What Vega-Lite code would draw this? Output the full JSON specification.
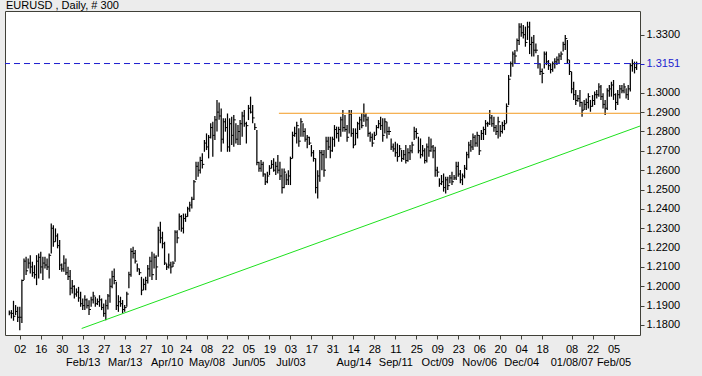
{
"$schema": "https://vega.github.io/schema/vega-lite/v6.json",
"width": 635, "height": 324,
"autosize": {"type": "none"},
"padding": {"left": 5, "top": 11, "right": 62, "bottom": 41},
"background": "#ececec",
"config": {"view": {"stroke": "#404038", "fill": "white"}, "font": "Liberation Sans"},
"title": {"text": "EURUSD , Daily, # 300", "anchor": "start", "frame": "group", "offset": 0, "dx": 1, "fontSize": 11, "fontWeight": "normal", "font": "Liberation Sans", "color": "black"},
"datasets": {
"bars": [
{"i":0,"h":1.1875,"l":1.1850,"c":1.1862},{"i":1,"h":1.1877,"l":1.1834,"c":1.1860},{"i":2,"h":1.1925,"l":1.1822,"c":1.1845},{"i":3,"h":1.1903,"l":1.1851,"c":1.1870},{"i":4,"h":1.1894,"l":1.1816,"c":1.1840},
{"i":5,"h":1.1894,"l":1.1773,"c":1.1840},{"i":6,"h":1.2035,"l":1.1810,"c":1.2030},{"i":7,"h":1.2144,"l":1.2032,"c":1.2130},{"i":8,"h":1.2152,"l":1.2058,"c":1.2080},{"i":9,"h":1.2144,"l":1.2092,"c":1.2120},
{"i":10,"h":1.2161,"l":1.2066,"c":1.2100},{"i":11,"h":1.2127,"l":1.2049,"c":1.2070},{"i":12,"h":1.2109,"l":1.2040,"c":1.2060},{"i":13,"h":1.2161,"l":1.2006,"c":1.2130},{"i":14,"h":1.2170,"l":1.2040,"c":1.2150},
{"i":15,"h":1.2178,"l":1.2066,"c":1.2100},{"i":16,"h":1.2152,"l":1.2032,"c":1.2120},{"i":17,"h":1.2152,"l":1.2092,"c":1.2110},{"i":18,"h":1.2144,"l":1.2084,"c":1.2100},{"i":19,"h":1.2170,"l":1.2040,"c":1.2160},
{"i":20,"h":1.2325,"l":1.2170,"c":1.2300},{"i":21,"h":1.2316,"l":1.2204,"c":1.2230},{"i":22,"h":1.2299,"l":1.2230,"c":1.2260},{"i":23,"h":1.2273,"l":1.2196,"c":1.2210},{"i":24,"h":1.2239,"l":1.2084,"c":1.2110},
{"i":25,"h":1.2118,"l":1.2075,"c":1.2090},{"i":26,"h":1.2161,"l":1.2075,"c":1.2120},{"i":27,"h":1.2144,"l":1.2058,"c":1.2070},{"i":28,"h":1.2101,"l":1.2032,"c":1.2050},{"i":29,"h":1.2084,"l":1.1954,"c":1.1990},
{"i":30,"h":1.2032,"l":1.1963,"c":1.2000},{"i":31,"h":1.2006,"l":1.1937,"c":1.1960},{"i":32,"h":1.1989,"l":1.1946,"c":1.1970},{"i":33,"h":1.1997,"l":1.1920,"c":1.1940},{"i":34,"h":1.1972,"l":1.1894,"c":1.1910},
{"i":35,"h":1.1937,"l":1.1877,"c":1.1900},{"i":36,"h":1.1954,"l":1.1877,"c":1.1930},{"i":37,"h":1.1937,"l":1.1885,"c":1.1900},{"i":38,"h":1.1928,"l":1.1851,"c":1.1880},{"i":39,"h":1.1946,"l":1.1894,"c":1.1930},
{"i":40,"h":1.1972,"l":1.1911,"c":1.1950},{"i":41,"h":1.1946,"l":1.1894,"c":1.1910},{"i":42,"h":1.1937,"l":1.1903,"c":1.1920},{"i":43,"h":1.1954,"l":1.1894,"c":1.1930},{"i":44,"h":1.1937,"l":1.1877,"c":1.1890},
{"i":45,"h":1.1911,"l":1.1842,"c":1.1860},{"i":46,"h":1.1930,"l":1.1825,"c":1.1900},{"i":47,"h":1.1960,"l":1.1880,"c":1.1950},{"i":48,"h":1.2040,"l":1.1915,"c":1.2000},{"i":49,"h":1.2080,"l":1.1990,"c":1.2050},
{"i":50,"h":1.2092,"l":1.2010,"c":1.2030},{"i":51,"h":1.2023,"l":1.1877,"c":1.1900},{"i":52,"h":1.1954,"l":1.1868,"c":1.1920},{"i":53,"h":1.1946,"l":1.1894,"c":1.1910},{"i":54,"h":1.1929,"l":1.1860,"c":1.1880},
{"i":55,"h":1.1903,"l":1.1868,"c":1.1890},{"i":56,"h":1.1972,"l":1.1894,"c":1.1960},{"i":57,"h":1.2075,"l":1.1990,"c":1.2060},{"i":58,"h":1.2196,"l":1.2049,"c":1.2180},{"i":59,"h":1.2204,"l":1.2144,"c":1.2170},
{"i":60,"h":1.2187,"l":1.2118,"c":1.2130},{"i":61,"h":1.2118,"l":1.2075,"c":1.2090},{"i":62,"h":1.2092,"l":1.2058,"c":1.2070},{"i":63,"h":1.2049,"l":1.1954,"c":1.1980},{"i":64,"h":1.2040,"l":1.1980,"c":1.2010},
{"i":65,"h":1.2049,"l":1.1980,"c":1.2030},{"i":66,"h":1.2110,"l":1.2015,"c":1.2090},{"i":67,"h":1.2153,"l":1.2049,"c":1.2130},{"i":68,"h":1.2178,"l":1.2032,"c":1.2060},{"i":69,"h":1.2170,"l":1.2092,"c":1.2150},
{"i":70,"h":1.2161,"l":1.2032,"c":1.2100},{"i":71,"h":1.2308,"l":1.2153,"c":1.2290},{"i":72,"h":1.2333,"l":1.2222,"c":1.2250},{"i":73,"h":1.2282,"l":1.2196,"c":1.2220},{"i":74,"h":1.2230,"l":1.2110,"c":1.2120},
{"i":75,"h":1.2118,"l":1.2084,"c":1.2100},{"i":76,"h":1.2170,"l":1.2092,"c":1.2110},{"i":77,"h":1.2127,"l":1.2066,"c":1.2100},{"i":78,"h":1.2130,"l":1.2100,"c":1.2120},{"i":79,"h":1.2290,"l":1.2127,"c":1.2280},
{"i":80,"h":1.2290,"l":1.2222,"c":1.2250},{"i":81,"h":1.2376,"l":1.2290,"c":1.2360},{"i":82,"h":1.2368,"l":1.2282,"c":1.2300},{"i":83,"h":1.2376,"l":1.2273,"c":1.2350},{"i":84,"h":1.2376,"l":1.2333,"c":1.2360},
{"i":85,"h":1.2411,"l":1.2359,"c":1.2400},{"i":86,"h":1.2437,"l":1.2385,"c":1.2420},{"i":87,"h":1.2463,"l":1.2402,"c":1.2450},{"i":88,"h":1.2549,"l":1.2446,"c":1.2540},{"i":89,"h":1.2644,"l":1.2549,"c":1.2620},
{"i":90,"h":1.2644,"l":1.2566,"c":1.2600},{"i":91,"h":1.2670,"l":1.2583,"c":1.2650},{"i":92,"h":1.2687,"l":1.2609,"c":1.2630},{"i":93,"h":1.2756,"l":1.2695,"c":1.2740},{"i":94,"h":1.2790,"l":1.2704,"c":1.2720},
{"i":95,"h":1.2782,"l":1.2661,"c":1.2770},{"i":96,"h":1.2842,"l":1.2764,"c":1.2820},{"i":97,"h":1.2850,"l":1.2670,"c":1.2780},{"i":98,"h":1.2880,"l":1.2756,"c":1.2860},{"i":99,"h":1.2962,"l":1.2800,"c":1.2900},
{"i":100,"h":1.2950,"l":1.2860,"c":1.2880},{"i":101,"h":1.2919,"l":1.2695,"c":1.2760},{"i":102,"h":1.2868,"l":1.2738,"c":1.2850},{"i":103,"h":1.2868,"l":1.2799,"c":1.2820},{"i":104,"h":1.2893,"l":1.2695,"c":1.2720},
{"i":105,"h":1.2868,"l":1.2695,"c":1.2840},{"i":106,"h":1.2876,"l":1.2730,"c":1.2780},{"i":107,"h":1.2885,"l":1.2721,"c":1.2860},{"i":108,"h":1.2842,"l":1.2738,"c":1.2760},{"i":109,"h":1.2833,"l":1.2730,"c":1.2800},
{"i":110,"h":1.2859,"l":1.2730,"c":1.2840},{"i":111,"h":1.2902,"l":1.2773,"c":1.2880},{"i":112,"h":1.2911,"l":1.2825,"c":1.2840},{"i":113,"h":1.2850,"l":1.2738,"c":1.2830},{"i":114,"h":1.2937,"l":1.2859,"c":1.2920},
{"i":115,"h":1.2980,"l":1.2893,"c":1.2900},{"i":116,"h":1.2937,"l":1.2842,"c":1.2870},{"i":117,"h":1.2842,"l":1.2807,"c":1.2820},{"i":118,"h":1.2807,"l":1.2626,"c":1.2640},{"i":119,"h":1.2644,"l":1.2592,"c":1.2610},
{"i":120,"h":1.2652,"l":1.2592,"c":1.2630},{"i":121,"h":1.2644,"l":1.2566,"c":1.2580},{"i":122,"h":1.2583,"l":1.2523,"c":1.2540},{"i":123,"h":1.2592,"l":1.2532,"c":1.2570},{"i":124,"h":1.2626,"l":1.2575,"c":1.2610},
{"i":125,"h":1.2652,"l":1.2609,"c":1.2630},{"i":126,"h":1.2661,"l":1.2592,"c":1.2600},{"i":127,"h":1.2644,"l":1.2575,"c":1.2620},{"i":128,"h":1.2678,"l":1.2583,"c":1.2600},{"i":129,"h":1.2644,"l":1.2549,"c":1.2570},
{"i":130,"h":1.2609,"l":1.2480,"c":1.2510},{"i":131,"h":1.2609,"l":1.2506,"c":1.2590},{"i":132,"h":1.2583,"l":1.2523,"c":1.2550},{"i":133,"h":1.2600,"l":1.2523,"c":1.2570},{"i":134,"h":1.2670,"l":1.2523,"c":1.2660},
{"i":135,"h":1.2799,"l":1.2661,"c":1.2780},{"i":136,"h":1.2825,"l":1.2773,"c":1.2790},{"i":137,"h":1.2850,"l":1.2738,"c":1.2830},{"i":138,"h":1.2816,"l":1.2721,"c":1.2750},{"i":139,"h":1.2868,"l":1.2773,"c":1.2850},
{"i":140,"h":1.2842,"l":1.2773,"c":1.2800},{"i":141,"h":1.2816,"l":1.2747,"c":1.2760},{"i":142,"h":1.2782,"l":1.2713,"c":1.2770},{"i":143,"h":1.2773,"l":1.2730,"c":1.2740},{"i":144,"h":1.2730,"l":1.2670,"c":1.2690},
{"i":145,"h":1.2704,"l":1.2644,"c":1.2660},{"i":146,"h":1.2661,"l":1.2480,"c":1.2510},{"i":147,"h":1.2600,"l":1.2454,"c":1.2570},{"i":148,"h":1.2704,"l":1.2540,"c":1.2690},{"i":149,"h":1.2704,"l":1.2600,"c":1.2680},
{"i":150,"h":1.2704,"l":1.2566,"c":1.2600},{"i":151,"h":1.2773,"l":1.2661,"c":1.2750},{"i":152,"h":1.2773,"l":1.2704,"c":1.2720},{"i":153,"h":1.2773,"l":1.2661,"c":1.2700},{"i":154,"h":1.2773,"l":1.2695,"c":1.2760},
{"i":155,"h":1.2833,"l":1.2721,"c":1.2810},{"i":156,"h":1.2825,"l":1.2764,"c":1.2790},{"i":157,"h":1.2825,"l":1.2747,"c":1.2810},{"i":158,"h":1.2876,"l":1.2773,"c":1.2860},{"i":159,"h":1.2911,"l":1.2799,"c":1.2820},
{"i":160,"h":1.2885,"l":1.2799,"c":1.2810},{"i":161,"h":1.2833,"l":1.2747,"c":1.2770},{"i":162,"h":1.2911,"l":1.2790,"c":1.2890},{"i":163,"h":1.2911,"l":1.2773,"c":1.2790},{"i":164,"h":1.2816,"l":1.2713,"c":1.2730},
{"i":165,"h":1.2816,"l":1.2730,"c":1.2790},{"i":166,"h":1.2850,"l":1.2764,"c":1.2840},{"i":167,"h":1.2876,"l":1.2807,"c":1.2860},{"i":168,"h":1.2894,"l":1.2816,"c":1.2830},{"i":169,"h":1.2945,"l":1.2850,"c":1.2880},
{"i":170,"h":1.2894,"l":1.2825,"c":1.2860},{"i":171,"h":1.2876,"l":1.2773,"c":1.2790},{"i":172,"h":1.2799,"l":1.2747,"c":1.2770},{"i":173,"h":1.2790,"l":1.2721,"c":1.2740},{"i":174,"h":1.2799,"l":1.2756,"c":1.2780},
{"i":175,"h":1.2833,"l":1.2782,"c":1.2820},{"i":176,"h":1.2859,"l":1.2816,"c":1.2840},{"i":177,"h":1.2876,"l":1.2807,"c":1.2830},{"i":178,"h":1.2868,"l":1.2747,"c":1.2780},{"i":179,"h":1.2868,"l":1.2790,"c":1.2850},
{"i":180,"h":1.2850,"l":1.2764,"c":1.2800},{"i":181,"h":1.2825,"l":1.2782,"c":1.2800},{"i":182,"h":1.2764,"l":1.2704,"c":1.2720},{"i":183,"h":1.2738,"l":1.2695,"c":1.2710},{"i":184,"h":1.2747,"l":1.2670,"c":1.2690},
{"i":185,"h":1.2738,"l":1.2644,"c":1.2670},{"i":186,"h":1.2730,"l":1.2670,"c":1.2710},{"i":187,"h":1.2704,"l":1.2644,"c":1.2660},{"i":188,"h":1.2704,"l":1.2652,"c":1.2680},{"i":189,"h":1.2730,"l":1.2635,"c":1.2650},
{"i":190,"h":1.2713,"l":1.2644,"c":1.2690},{"i":191,"h":1.2730,"l":1.2652,"c":1.2700},{"i":192,"h":1.2747,"l":1.2687,"c":1.2730},{"i":193,"h":1.2825,"l":1.2756,"c":1.2800},{"i":194,"h":1.2816,"l":1.2764,"c":1.2790},
{"i":195,"h":1.2773,"l":1.2687,"c":1.2700},{"i":196,"h":1.2764,"l":1.2661,"c":1.2680},{"i":197,"h":1.2730,"l":1.2670,"c":1.2700},{"i":198,"h":1.2713,"l":1.2635,"c":1.2650},{"i":199,"h":1.2738,"l":1.2640,"c":1.2720},
{"i":200,"h":1.2773,"l":1.2670,"c":1.2700},{"i":201,"h":1.2764,"l":1.2695,"c":1.2720},{"i":202,"h":1.2730,"l":1.2661,"c":1.2700},{"i":203,"h":1.2721,"l":1.2566,"c":1.2600},{"i":204,"h":1.2618,"l":1.2566,"c":1.2590},
{"i":205,"h":1.2558,"l":1.2514,"c":1.2530},{"i":206,"h":1.2575,"l":1.2523,"c":1.2540},{"i":207,"h":1.2583,"l":1.2489,"c":1.2510},{"i":208,"h":1.2566,"l":1.2480,"c":1.2550},{"i":209,"h":1.2566,"l":1.2497,"c":1.2520},
{"i":210,"h":1.2575,"l":1.2532,"c":1.2560},{"i":211,"h":1.2592,"l":1.2523,"c":1.2540},{"i":212,"h":1.2575,"l":1.2549,"c":1.2560},{"i":213,"h":1.2644,"l":1.2549,"c":1.2620},{"i":214,"h":1.2644,"l":1.2566,"c":1.2580},
{"i":215,"h":1.2601,"l":1.2532,"c":1.2550},{"i":216,"h":1.2583,"l":1.2523,"c":1.2570},{"i":217,"h":1.2627,"l":1.2558,"c":1.2610},{"i":218,"h":1.2695,"l":1.2601,"c":1.2680},{"i":219,"h":1.2747,"l":1.2661,"c":1.2730},
{"i":220,"h":1.2756,"l":1.2695,"c":1.2720},{"i":221,"h":1.2790,"l":1.2704,"c":1.2770},{"i":222,"h":1.2782,"l":1.2721,"c":1.2740},{"i":223,"h":1.2799,"l":1.2721,"c":1.2780},{"i":224,"h":1.2782,"l":1.2678,"c":1.2700},
{"i":225,"h":1.2807,"l":1.2756,"c":1.2790},{"i":226,"h":1.2825,"l":1.2756,"c":1.2810},{"i":227,"h":1.2859,"l":1.2782,"c":1.2840},{"i":228,"h":1.2850,"l":1.2825,"c":1.2840},{"i":229,"h":1.2911,"l":1.2833,"c":1.2870},
{"i":230,"h":1.2885,"l":1.2825,"c":1.2840},{"i":231,"h":1.2876,"l":1.2799,"c":1.2820},{"i":232,"h":1.2833,"l":1.2782,"c":1.2800},{"i":233,"h":1.2876,"l":1.2764,"c":1.2850},{"i":234,"h":1.2833,"l":1.2773,"c":1.2800},
{"i":235,"h":1.2850,"l":1.2790,"c":1.2830},{"i":236,"h":1.2859,"l":1.2807,"c":1.2840},{"i":237,"h":1.2945,"l":1.2842,"c":1.2930},{"i":238,"h":1.3092,"l":1.2937,"c":1.3070},{"i":239,"h":1.3161,"l":1.3083,"c":1.3150},
{"i":240,"h":1.3213,"l":1.3135,"c":1.3200},{"i":241,"h":1.3221,"l":1.3152,"c":1.3190},{"i":242,"h":1.3281,"l":1.3213,"c":1.3270},{"i":243,"h":1.3359,"l":1.3247,"c":1.3340},{"i":244,"h":1.3359,"l":1.3290,"c":1.3310},
{"i":245,"h":1.3350,"l":1.3281,"c":1.3300},{"i":246,"h":1.3342,"l":1.3238,"c":1.3260},{"i":247,"h":1.3367,"l":1.3273,"c":1.3340},{"i":248,"h":1.3367,"l":1.3200,"c":1.3250},{"i":249,"h":1.3290,"l":1.3187,"c":1.3260},
{"i":250,"h":1.3299,"l":1.3187,"c":1.3220},{"i":251,"h":1.3255,"l":1.3204,"c":1.3220},{"i":252,"h":1.3195,"l":1.3126,"c":1.3150},{"i":253,"h":1.3152,"l":1.3092,"c":1.3110},{"i":254,"h":1.3126,"l":1.3049,"c":1.3100},
{"i":255,"h":1.3213,"l":1.3126,"c":1.3200},{"i":256,"h":1.3213,"l":1.3143,"c":1.3160},{"i":257,"h":1.3169,"l":1.3118,"c":1.3140},{"i":258,"h":1.3152,"l":1.3100,"c":1.3120},{"i":259,"h":1.3161,"l":1.3109,"c":1.3150},
{"i":260,"h":1.3178,"l":1.3126,"c":1.3160},{"i":261,"h":1.3187,"l":1.3143,"c":1.3170},{"i":262,"h":1.3204,"l":1.3152,"c":1.3190},{"i":263,"h":1.3213,"l":1.3169,"c":1.3200},{"i":264,"h":1.3264,"l":1.3213,"c":1.3250},
{"i":265,"h":1.3299,"l":1.3221,"c":1.3280},{"i":266,"h":1.3273,"l":1.3152,"c":1.3170},{"i":267,"h":1.3169,"l":1.3092,"c":1.3110},{"i":268,"h":1.3109,"l":1.2997,"c":1.3020},{"i":269,"h":1.3057,"l":1.2963,"c":1.2990},
{"i":270,"h":1.3014,"l":1.2937,"c":1.2960},{"i":271,"h":1.2988,"l":1.2954,"c":1.2970},{"i":272,"h":1.3014,"l":1.2928,"c":1.2950},{"i":273,"h":1.2954,"l":1.2876,"c":1.2910},{"i":274,"h":1.2963,"l":1.2911,"c":1.2940},
{"i":275,"h":1.2971,"l":1.2911,"c":1.2950},{"i":276,"h":1.2997,"l":1.2919,"c":1.2980},{"i":277,"h":1.2963,"l":1.2902,"c":1.2930},{"i":278,"h":1.2988,"l":1.2928,"c":1.2960},{"i":279,"h":1.3006,"l":1.2937,"c":1.2990},
{"i":280,"h":1.3014,"l":1.2971,"c":1.2990},{"i":281,"h":1.3049,"l":1.2980,"c":1.3030},{"i":282,"h":1.3040,"l":1.2963,"c":1.2980},{"i":283,"h":1.2997,"l":1.2919,"c":1.2940},{"i":284,"h":1.2963,"l":1.2885,"c":1.2920},
{"i":285,"h":1.3023,"l":1.2911,"c":1.3010},{"i":286,"h":1.3040,"l":1.2980,"c":1.3020},{"i":287,"h":1.3057,"l":1.2980,"c":1.3040},{"i":288,"h":1.3066,"l":1.2963,"c":1.2990},{"i":289,"h":1.2997,"l":1.2911,"c":1.2950},
{"i":290,"h":1.3014,"l":1.2937,"c":1.2990},{"i":291,"h":1.3040,"l":1.2971,"c":1.3020},{"i":292,"h":1.3040,"l":1.2997,"c":1.3010},{"i":293,"h":1.3049,"l":1.2997,"c":1.3030},{"i":294,"h":1.3023,"l":1.2971,"c":1.2990},
{"i":295,"h":1.3040,"l":1.2963,"c":1.3020},{"i":296,"h":1.3152,"l":1.3006,"c":1.3140},{"i":297,"h":1.3173,"l":1.3109,"c":1.3150},{"i":298,"h":1.3161,"l":1.3100,"c":1.3130},{"i":299,"h":1.3161,"l":1.3118,"c":1.3150}
],
"level": [{"v": 1.3151}],
"support": [{"x": 128.5, "x2": 300.62, "y": 1.2894}],
"trend": [{"x": 34.5, "y": 1.1782, "x2": 300.62, "y2": 1.2828}]
},
"layer": [
{"data": {"name": "bars"},
 "mark": {"type": "rule", "color": "black", "strokeWidth": 1.25},
 "encoding": {
  "x": {"field": "i", "type": "quantitative",
   "scale": {"domain": [-2.05, 300.62], "nice": false, "zero": false},
   "axis": {"values": [5,15,25,35,45,55,65,75,84,94,104,114,124,134,144,154,164,174,184,194,204,214,224,234,244,254,268,278,288],
    "tickCount": 200,
    "labelExpr": "{'5':'02','15':'16','25':'30','35':['13','Feb/13'],'45':'27','55':['13','Mar/13'],'65':'27','75':['10','Apr/10'],'84':'24','94':['08','May/08'],'104':'22','114':['05','Jun/05'],'124':'19','134':['03','Jul/03'],'144':'17','154':'31','164':['14','Aug/14'],'174':'28','184':['11','Sep/11'],'194':'25','204':['09','Oct/09'],'214':'23','224':['06','Nov/06'],'234':'20','244':['04','Dec/04'],'254':'18','268':['08','01/08/07'],'278':'22','288':['05','Feb/05']}[datum.value]",
    "title": null, "domain": false, "grid": false, "tickSize": 4, "tickColor": "#404038",
    "labelFontSize": 11, "labelColor": "black", "labelPadding": 4, "labelLineHeight": 13,
    "labelOverlap": false, "labelBound": false, "labelFlush": false}},
  "y": {"field": "l", "type": "quantitative",
   "scale": {"domain": [1.17483, 1.34225], "nice": false, "zero": false},
   "axis": {"orient": "right", "values": [1.18,1.19,1.2,1.21,1.22,1.23,1.24,1.25,1.26,1.27,1.28,1.29,1.3,1.3151,1.33],
    "tickCount": 200,
    "format": ".4f", "title": null, "domain": false, "grid": false, "tickSize": 4,
    "tickColor": {"condition": {"test": "datum.value == 1.3151", "value": "#1c1cd0"}, "value": "#404038"},
    "labelColor": {"condition": {"test": "datum.value == 1.3151", "value": "#1c1cd0"}, "value": "black"},
    "labelFontSize": 11, "labelPadding": 2, "labelOverlap": false, "labelBound": false, "labelFlush": false}},
  "y2": {"field": "h"}
 }},
{"data": {"name": "bars"},
 "mark": {"type": "tick", "orient": "horizontal", "size": 2, "thickness": 1, "xOffset": 1, "color": "black", "opacity": 1},
 "encoding": {"x": {"field": "i", "type": "quantitative"}, "y": {"field": "c", "type": "quantitative"}}},
{"data": {"name": "level"},
 "mark": {"type": "rule", "color": "#1c1cd0", "strokeWidth": 1, "strokeDash": [6, 4]},
 "encoding": {"y": {"field": "v", "type": "quantitative"}}},
{"data": {"name": "support"},
 "mark": {"type": "rule", "color": "#f39a22", "strokeWidth": 1},
 "encoding": {"x": {"field": "x", "type": "quantitative"}, "x2": {"field": "x2"}, "y": {"field": "y", "type": "quantitative"}}},
{"data": {"name": "trend"},
 "mark": {"type": "rule", "color": "#1ee01e", "strokeWidth": 1},
 "encoding": {"x": {"field": "x", "type": "quantitative"}, "x2": {"field": "x2"}, "y": {"field": "y", "type": "quantitative"}, "y2": {"field": "y2"}}}
]
}
